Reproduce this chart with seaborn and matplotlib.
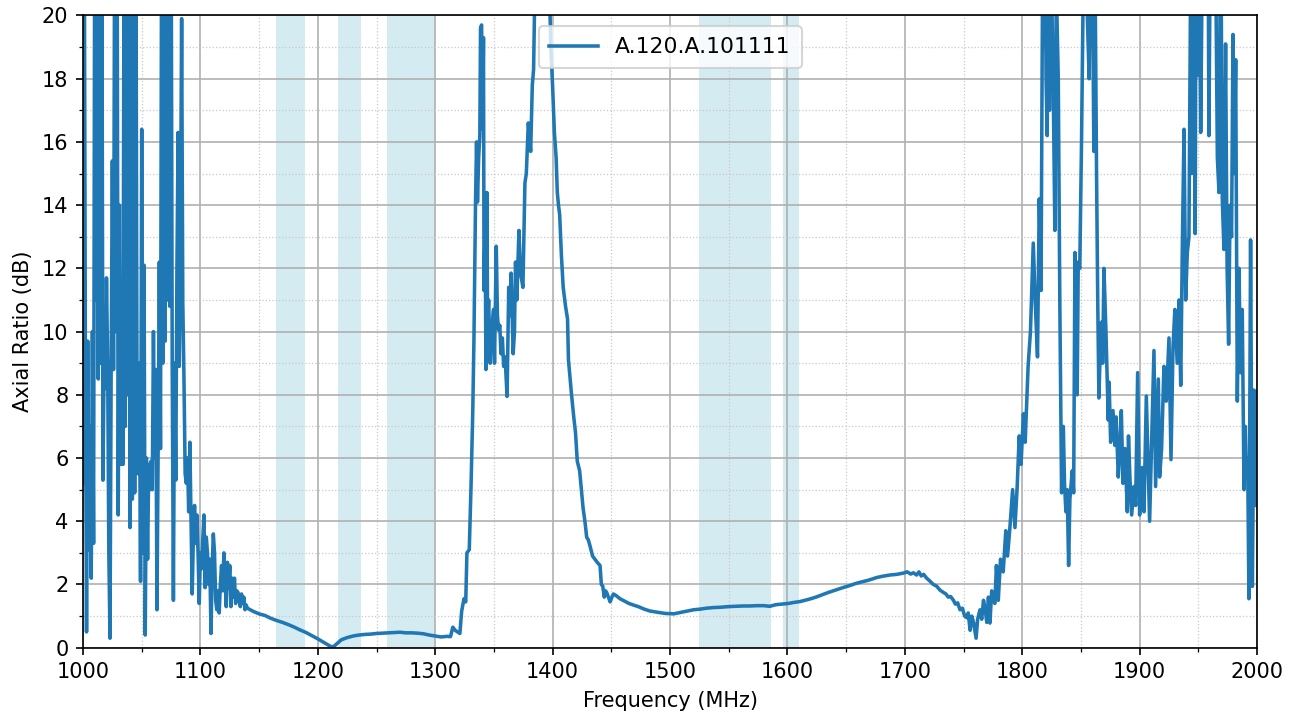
import numpy as np
import pandas as pd
import matplotlib
matplotlib.use("Agg")
import matplotlib.pyplot as plt
from matplotlib.ticker import MultipleLocator
import seaborn as sns

SERIES = "A.120.A.101111"

# ---- 1000-1140 MHz (1 MHz sampling) ----
freq_a = list(range(1000, 1141))
ar_a = [
    5.2, 24, 9.5, 0.5, 9.7, 3.1, 7.0, 2.2, 10.0, 3.3,
    24, 11.0, 24, 8.5, 24, 9.0, 24, 5.3, 9.2, 8.2,
    11.7, 9.0, 3.0, 0.3, 9.0, 15.4, 8.8, 24, 10.0, 24,
    4.2, 14.0, 5.8, 11.0, 5.8, 24, 7.0, 24, 8.0, 24,
    3.8, 24, 4.7, 24, 4.9, 24, 8.0, 5.5, 9.0, 2.1,
    16.4, 3.0, 12.1, 0.4, 6.0, 2.8, 5.8, 5.0, 5.9, 5.0,
    10.0, 6.0, 8.8, 1.2, 6.3, 12.2, 6.3, 24, 9.0, 24,
    9.7, 24, 11.0, 24, 10.8, 24, 8.9, 1.5, 9.0, 5.3,
    12.0, 16.3, 8.9, 13.0, 19.9, 10.9, 8.5, 5.5, 5.2, 6.0,
    4.3, 6.5, 4.0, 1.7, 3.5, 4.5, 3.3, 4.2, 3.0, 1.4,
    3.0, 2.5, 3.4, 4.2, 1.9, 3.5, 3.0, 2.0, 2.8, 0.45,
    2.5, 3.6, 3.0, 1.5, 1.2, 1.8, 1.1, 2.0, 2.6, 1.8,
    3.0, 2.2, 1.3, 2.7, 1.9, 2.6, 1.3, 2.2, 1.6, 2.2,
    1.4, 1.8, 1.75, 1.5, 1.3, 1.7, 1.4, 1.6, 1.2, 1.35,
    1.25,
]

# ---- 1145-1310 MHz (smooth dip) ----
freq_b = [1145, 1150, 1155, 1160, 1165, 1170, 1175, 1180, 1185, 1190,
          1195, 1200, 1205, 1210, 1213, 1216, 1220, 1225, 1230, 1235,
          1240, 1245, 1250, 1255, 1260, 1265, 1270, 1275, 1280, 1285,
          1290, 1295, 1300, 1305, 1310]
ar_b = [1.15, 1.07, 1.02, 0.93, 0.86, 0.80, 0.73, 0.65, 0.56, 0.48,
        0.38, 0.28, 0.17, 0.06, 0.02, 0.12, 0.25, 0.32, 0.37, 0.40,
        0.42, 0.43, 0.45, 0.46, 0.47, 0.48, 0.49, 0.47, 0.47, 0.46,
        0.44, 0.40, 0.37, 0.34, 0.36]

# ---- 1313-1449 MHz (first resonance) ----
freq_c = [1313, 1315, 1317, 1319, 1321, 1322.5, 1324.5, 1326, 1327, 1329,
          1330.5, 1332, 1333, 1334.3, 1335.2, 1336, 1337, 1338, 1338.6, 1339.5,
          1340.4, 1341.1, 1341.6, 1342.5, 1343.2, 1344, 1344.6, 1345.5, 1346.8, 1348,
          1349.7, 1350.5, 1352, 1353, 1354, 1355, 1356, 1357.2, 1358.3, 1359.5,
          1361.2, 1362.6, 1363.5, 1364.6, 1366.4, 1367.5, 1368.4, 1369.5, 1371.3, 1372.7,
          1374.7, 1376.4, 1377.6, 1379.3, 1381.3, 1382.7, 1383.8, 1384.7, 1387, 1391,
          1395, 1397.5, 1398.5, 1400, 1401.5, 1403, 1404, 1405, 1406, 1407.5,
          1409, 1411, 1412.7, 1413.5, 1416, 1418, 1419.5, 1421, 1423, 1424.5,
          1426, 1427.5, 1429, 1430.5, 1432, 1434, 1436, 1438, 1440.4, 1441.5,
          1442.7, 1444, 1445, 1446, 1447.5, 1449]
ar_c = [0.35, 0.65, 0.55, 0.5, 0.45, 1.15, 1.55, 1.45, 3.0, 3.1,
        5.1, 7.5, 9.8, 14.0, 16.0, 14.1, 15.5, 16.2, 19.6, 19.7,
        16.4, 19.3, 11.3, 13.5, 8.8, 14.4, 10.2, 11.0, 9.0, 10.0,
        10.7, 9.0, 12.7, 10.5, 10.05, 10.2, 9.3, 9.8, 8.9, 9.2,
        7.95, 11.4, 10.5, 11.85, 9.3, 10.0, 12.2, 11.0, 13.2, 11.85,
        11.4, 14.7, 15.0, 16.6, 15.7, 17.8, 18.3, 20.5, 23, 25,
        23, 20.5, 19.0, 17.75, 16.3, 15.5, 14.4, 14.0, 13.7, 12.4,
        11.4, 10.8, 10.4, 9.1, 8.05, 7.3, 6.8, 5.9, 5.6, 5.0,
        4.4, 4.0, 3.5, 3.4, 3.2, 2.9, 2.8, 2.7, 2.6, 2.0,
        1.95, 1.6, 1.8, 1.75, 1.6, 1.45]

# ---- 1450-1773 MHz (broad plateau) ----
freq_d = [1450.5, 1451.8, 1454, 1457.4, 1461, 1465, 1468.8, 1473, 1478, 1483,
          1488, 1493, 1497, 1500, 1503, 1507, 1511.4, 1516, 1520, 1525.6,
          1531, 1537, 1543, 1549.7, 1556, 1562, 1568, 1574, 1580, 1585,
          1590, 1595, 1600.8, 1605, 1610.8, 1615, 1620, 1625, 1630, 1635,
          1639, 1644, 1648, 1653.4, 1658, 1663, 1667.5, 1672, 1676, 1681,
          1687.4, 1693, 1698.8, 1702, 1705, 1707.3, 1710, 1712, 1714, 1716,
          1718.6, 1721, 1724.3, 1727, 1730, 1732.8, 1735, 1737, 1739, 1741.4,
          1743, 1745, 1747, 1749, 1751, 1752.7, 1754, 1755.6, 1757, 1758.5,
          1760.7, 1762, 1764, 1765.5, 1767, 1768.5, 1769.8, 1771.2, 1772.5]
ar_d = [1.6, 1.7, 1.65, 1.55, 1.48, 1.40, 1.35, 1.30, 1.22, 1.16,
        1.13, 1.10, 1.08, 1.08, 1.07, 1.10, 1.13, 1.17, 1.20, 1.22,
        1.25, 1.27, 1.28, 1.30, 1.31, 1.32, 1.32, 1.33, 1.33, 1.31,
        1.36, 1.38, 1.40, 1.43, 1.46, 1.50, 1.55, 1.61, 1.68, 1.75,
        1.80, 1.86, 1.91, 1.97, 2.03, 2.08, 2.12, 2.17, 2.22, 2.26,
        2.30, 2.32, 2.36, 2.40, 2.33, 2.37, 2.30, 2.40, 2.27, 2.32,
        2.20, 2.12, 2.00, 1.95, 1.82, 1.75, 1.70, 1.60, 1.62, 1.50,
        1.38, 1.42, 1.20, 1.25, 1.00, 0.95, 1.10, 0.55, 1.00, 0.80,
        0.30, 0.90, 1.20, 0.90, 1.50, 1.20, 0.80, 1.60, 0.78]

# ---- 1774-2000 MHz (upper resonances) ----
freq_e = [1774, 1775.4, 1776.7, 1778, 1779.6, 1781.5, 1783.8, 1786, 1787.5, 1789.5,
          1791.8, 1793.8, 1795.7, 1797.4, 1799, 1801, 1802.5, 1805, 1807, 1809.4,
          1811, 1813, 1814.5, 1816, 1817.3, 1818.3, 1819.3, 1820.3, 1821.3, 1822.2,
          1823.2, 1824.2, 1825.2, 1826.4, 1827.8, 1829, 1830.7, 1832, 1833.5, 1835,
          1836, 1837.2, 1838.3, 1839.5, 1840.6, 1842.6, 1843.8, 1844.9, 1846.8, 1847.7,
          1849, 1850.5, 1852, 1853.5, 1855, 1857, 1858, 1859, 1860, 1861,
          1862.2, 1863.3, 1864.3, 1865.3, 1866.5, 1867.6, 1868.5, 1869.6, 1871.3, 1873.3,
          1874, 1875.3, 1877.3, 1879, 1880, 1881.8, 1883, 1884.4, 1885.8, 1887.5,
          1889.5, 1890.5, 1891.8, 1893.2, 1895.2, 1896.6, 1898.3, 1900, 1901, 1902.3,
          1903.7, 1905.7, 1907.4, 1908.5, 1910.2, 1912.2, 1913.6, 1915.9, 1917, 1918.7,
          1920.7, 1922.7, 1925, 1926.7, 1928.4, 1930, 1932, 1933.5, 1935, 1936.3,
          1937.8, 1939.2, 1940.6, 1942, 1943.4, 1944.5, 1945.5, 1946.5, 1947.3, 1948.2,
          1949, 1950.5, 1952, 1953.4, 1955, 1956.5, 1958.2, 1959, 1960.5, 1962,
          1963.5, 1964.7, 1966.2, 1967.6, 1969, 1970.4, 1971.8, 1973.2, 1974.5, 1975.8,
          1977, 1978.3, 1979.5, 1980.6, 1981.8, 1983.2, 1984.6, 1986, 1987.4, 1988.9,
          1990, 1990.9, 1992, 1993.1, 1994.5, 1996, 1997.4, 1998.8, 2000]
ar_e = [1.8, 1.5, 1.4, 2.6, 1.5, 2.8, 2.4, 3.7, 2.9, 3.8,
        5.0, 3.8, 5.1, 6.7, 5.8, 7.4, 6.5, 8.9, 10.0, 12.8,
        11.0, 9.2, 14.2, 11.3, 21, 19, 24, 18, 16.2, 24,
        17, 24, 20.5, 17.7, 13.2, 21, 18, 11, 4.9, 7.0,
        5.2, 4.3, 5.0, 2.6, 4.7, 5.6, 4.9, 12.5, 8.0, 12.2,
        12.0, 16, 21, 24, 20.5, 18.0, 22, 24, 20.5, 15.7,
        20.5, 15.0, 11, 7.9, 9.5, 10.3, 9.0, 12.0, 10.0, 7.2,
        8.4, 6.5, 7.5, 6.4, 7.3, 5.4, 6.2, 7.5, 5.2, 6.3,
        4.3, 6.7, 5.3, 4.2, 5.1, 4.5, 8.7, 4.2, 5.0, 5.7,
        4.3, 7.96, 5.5, 4.0, 6.5, 9.4, 5.1, 8.5, 5.4, 6.3,
        8.9, 7.8, 9.8, 5.95, 9.5, 10.7, 9.0, 11.0, 8.3, 12.5,
        16.4, 11.0, 12.5, 13.0, 21, 15, 24, 19, 13.1, 24,
        18.1, 24, 16.3, 22, 24, 20.5, 24, 16.2, 24, 21,
        24, 22, 15.5, 14.4, 24, 14.2, 12.6, 19.1, 12.0, 9.6,
        14, 13, 19.4, 15, 18.6, 7.8, 12.0, 8.7, 10.7, 5.0,
        7.0, 5.4, 6.0, 1.55, 12.9, 1.94, 8.15, 4.5, 8.1]

# ---- highlighted frequency bands (MHz) ----
band_lo = [1164, 1217, 1259, 1525, 1596]
band_hi = [1189, 1237, 1300, 1586, 1610]

freqs = freq_a + freq_b + freq_c + freq_d + freq_e
ars = ar_a + ar_b + ar_c + ar_d + ar_e
assert len(freqs) == len(ars)
df = pd.DataFrame({"Frequency (MHz)": freqs, "Axial Ratio (dB)": ars})

fig, ax = plt.subplots(figsize=(8.66, 4.8), dpi=150)
fig.subplots_adjust(left=0.0639, right=0.9677, top=0.9785, bottom=0.1004)

for lo, hi in zip(band_lo, band_hi):
    ax.axvspan(lo, hi, color="lightblue", alpha=0.5, lw=0)

sns.lineplot(data=df, x="Frequency (MHz)", y="Axial Ratio (dB)",
             estimator=None, sort=False, color="#1f77b4", lw=1.7,
             label=SERIES, ax=ax)

ax.set_xlim(1000, 2000)
ax.set_ylim(0, 20)
ax.xaxis.set_major_locator(MultipleLocator(100))
ax.xaxis.set_minor_locator(MultipleLocator(50))
ax.yaxis.set_major_locator(MultipleLocator(2))
ax.yaxis.set_minor_locator(MultipleLocator(1))
ax.grid(which="major", color="#b0b0b0", lw=0.8, ls="-")
ax.grid(which="minor", color="#c8c8c8", lw=0.6, ls=":")
ax.set_xlabel("Frequency (MHz)")
ax.set_ylabel("Axial Ratio (dB)")
ax.legend(loc="upper center", fontsize=10.5, handlelength=2.2,
          borderpad=0.5)

fig.savefig("out.png", dpi=150)
